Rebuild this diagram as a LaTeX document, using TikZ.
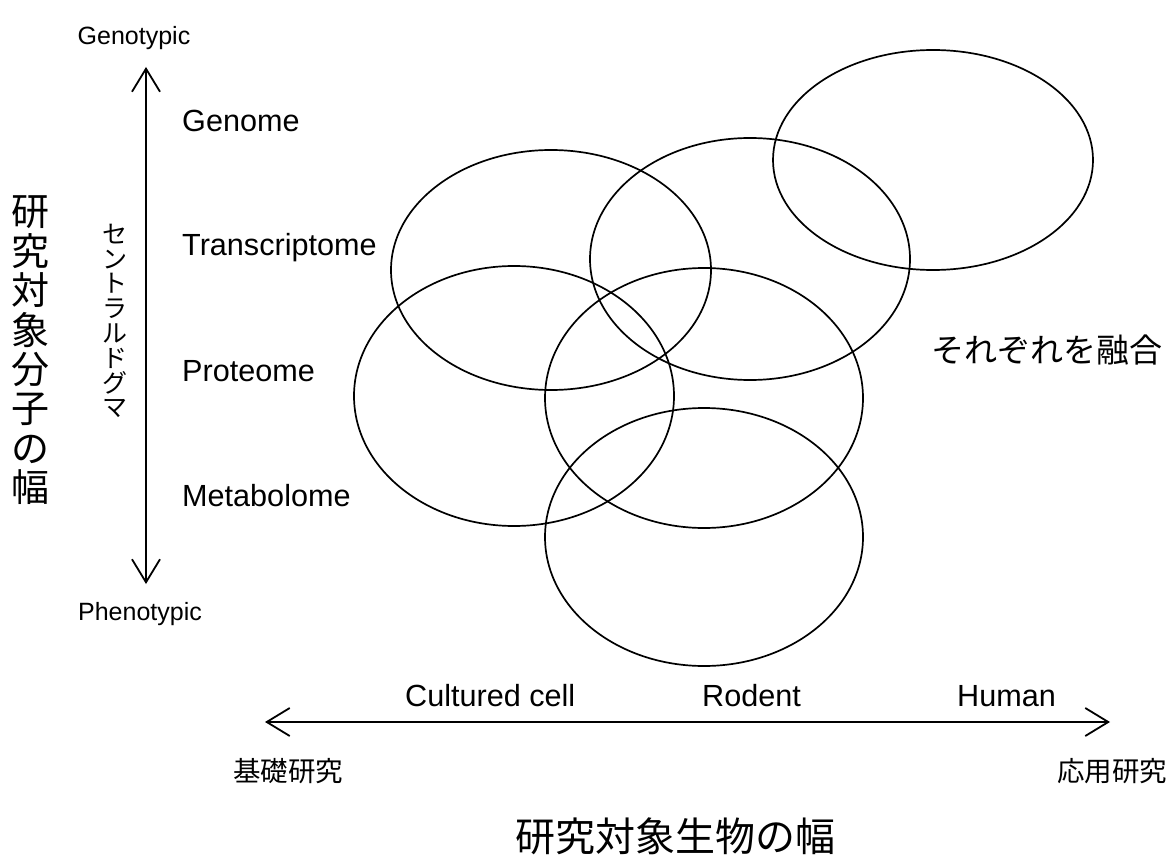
\documentclass[tikz,border=0pt]{standalone}
\usepackage{fontspec}
\setmainfont{Liberation Sans}
\newfontfamily\jp{Noto Sans CJK JP}
\usetikzlibrary{arrows.meta}
\tikzset{
  oval/.style={draw=black, line width=1.7pt},
  axis/.style={line width=1.8pt, {Straight Barb[length=23pt,width=28pt]}-{Straight Barb[length=23pt,width=28pt]}},
  lbl/.style={font=\fontsize{30.6}{34}\selectfont, inner sep=0pt, anchor=base west},
  small/.style={font=\fontsize{25}{28}\selectfont, inner sep=0pt, anchor=base},
  jpmid/.style={font=\jp\fontsize{27.5}{30}\selectfont, inner sep=0pt},
}
\begin{document}
\begin{tikzpicture}[x=1pt,y=-1pt]
\useasboundingbox (0,0) rectangle (1174,858);
% ellipses
\draw[oval] (933,160) ellipse [x radius=160, y radius=110];
\draw[oval] (750,259) ellipse [x radius=160, y radius=121];
\draw[oval] (551,270) ellipse [x radius=160, y radius=120];
\draw[oval] (514,396) ellipse [x radius=160, y radius=130];
\draw[oval] (704,398) ellipse [x radius=159, y radius=130];
\draw[oval] (704,537) ellipse [x radius=159, y radius=129];
% vertical axis
\coordinate (vtop) at (146,67);
\coordinate (vbot) at (146,584);
\draw[axis] (vtop) -- (vbot);
\node[small] (geno) at (134,45) {Genotypic};
\node[small] (pheno) at (140,620) {Phenotypic};
\node[lbl] (genome) at (182,132) {Genome};
\node[lbl] (trans) at (182,256) {Transcriptome};
\node[lbl] (prot) at (182,381) {Proteome};
\node[lbl] (meta) at (182,506) {Metabolome};
\node[font=\jp\fontsize{25}{24.8}\selectfont, align=center, inner sep=0pt] (dogma) at (115,321)
  {セ\\ン\\ト\\ラ\\ル\\ド\\グ\\マ};
\node[font=\jp\fontsize{38}{39.4}\selectfont, align=center, inner sep=0pt] (ylab) at (31,350.5)
  {研\\究\\対\\象\\分\\子\\の\\幅};
% horizontal axis
\coordinate (hl) at (265,722);
\coordinate (hr) at (1110,722);
\draw[axis] (hl) -- (hr);
\node[lbl] (cult) at (405,706) {Cultured cell};
\node[lbl] (rod) at (702,706) {Rodent};
\node[lbl] (hum) at (957,706) {Human};
\node[jpmid, anchor=west] (basic) at (233,771) {基礎研究};
\node[jpmid, anchor=west] (appl) at (1057,771) {応用研究};
\node[font=\jp\fontsize{40}{44}\selectfont, inner sep=0pt] (xlab) at (675,836) {研究対象生物の幅};
\node[font=\jp\fontsize{33}{36}\selectfont, inner sep=0pt] (fuse) at (1047,350) {それぞれを融合};
\end{tikzpicture}
\end{document}
